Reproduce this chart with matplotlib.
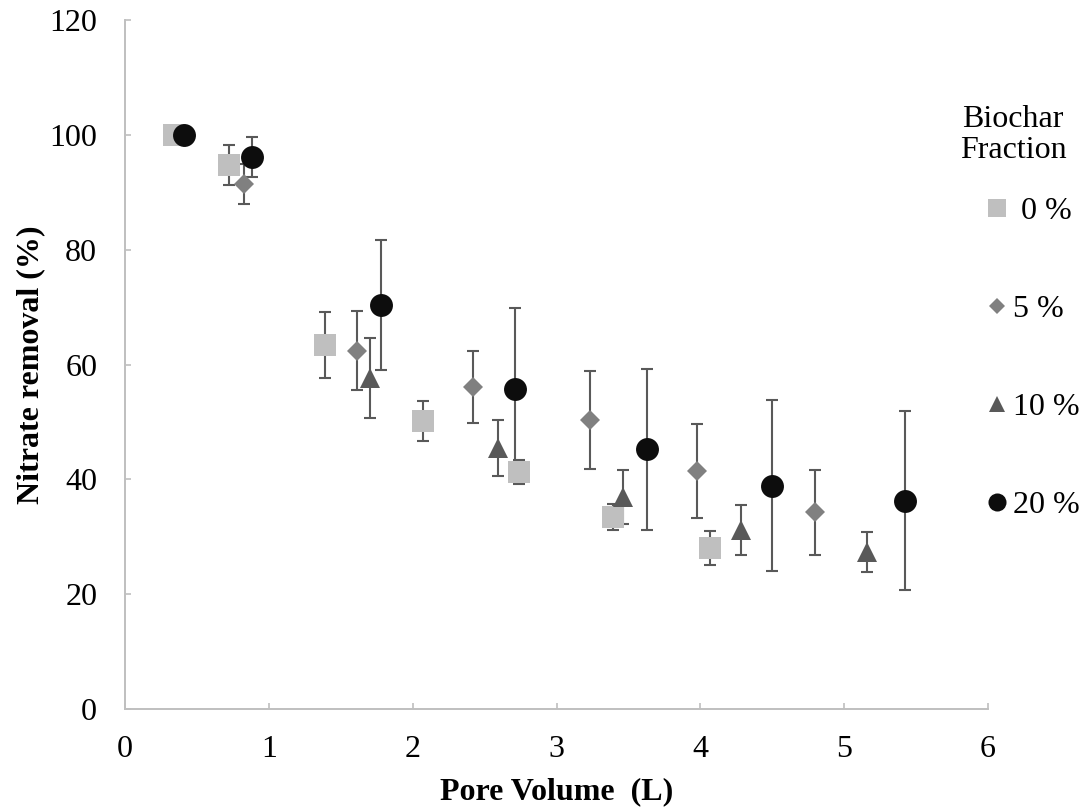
import numpy as np
import matplotlib
matplotlib.use('Agg')
import matplotlib.pyplot as plt
from matplotlib.lines import Line2D

plt.rcParams['font.family'] = ['Liberation Serif', 'DejaVu Serif']

# Data
x0 = [0.34, 0.72, 1.39, 2.07, 2.74, 3.39, 4.07]
y0 = [100.0, 94.7, 63.4, 50.1, 41.3, 33.4, 28.0]
e0 = [0.0, 3.5, 5.7, 3.5, 2.1, 2.3, 3.0]

x5 = [0.83, 1.61, 2.42, 3.23, 3.98, 4.80]
y5 = [91.5, 62.4, 56.1, 50.3, 41.4, 34.3]
e5 = [3.5, 6.9, 6.3, 8.5, 8.2, 7.4]

x10 = [1.70, 2.59, 3.46, 4.28, 5.16]
y10 = [57.6, 45.5, 36.9, 31.2, 27.3]
e10 = [7.0, 4.9, 4.7, 4.3, 3.5]

x20 = [0.41, 0.88, 1.78, 2.71, 3.63, 4.50, 5.42]
y20 = [100.0, 96.1, 70.3, 55.7, 45.2, 38.9, 36.3]
e20 = [0.0, 3.5, 11.3, 14.2, 14.0, 14.9, 15.6]

labels = [' 0 %', '5 %', '10 %', '20 %']
colors = ['#bfbfbf', '#808080', '#595959', '#0d0d0d']
markers = ['s', 'D', '^', 'o']
sizes = [15.5, 10.0, 14.5, 16.5]
leg_sizes = [13, 8, 11.5, 13]

FS = 23

fig = plt.figure(figsize=(10.81, 8.07), dpi=100)
ax = fig.add_axes([125 / 1081, 1 - 709 / 807, (988 - 125) / 1081, (709 - 20) / 807])

series = [(x0, y0, e0), (x5, y5, e5), (x10, y10, e10), (x20, y20, e20)]
for (xs, ys, es), c, m, s in zip(series, colors, markers, sizes):
    cont = ax.errorbar(xs, ys, yerr=es, fmt=m, color=c, markersize=s, markeredgewidth=0,
                       ecolor='#595959', elinewidth=1.5, capsize=4.5)
    for cap in cont[1]:
        cap.set_markeredgewidth(1.5)

ax.set_xlim(0, 6)
ax.set_ylim(0, 120)
ax.set_xticks(np.arange(0, 7, 1))
ax.set_yticks(np.arange(0, 121, 20))

for side in ['top', 'right']:
    ax.spines[side].set_visible(False)
for side in ['left', 'bottom']:
    ax.spines[side].set_color('#bfbfbf')
    ax.spines[side].set_linewidth(1.4)
ax.tick_params(direction='in', length=4, width=1.2, color='#bfbfbf', labelsize=FS)
ax.tick_params(axis='x', pad=18.5)
ax.tick_params(axis='y', pad=20)

ax.set_xlabel('Pore Volume  (L)', fontsize=FS, fontweight='bold')
ax.set_ylabel('Nitrate removal (%)', fontsize=FS, fontweight='bold')
ax.xaxis.set_label_coords(0.5, -0.0995)
ax.yaxis.set_label_coords(-0.092, 0.5)

fig.text(1013 / 1081, 1 - 135 / 807, 'Biochar\nFraction', fontsize=FS,
         ha='center', va='center', multialignment='center', linespacing=1.05)

handles = [Line2D([], [], linestyle='none', marker=m, color=c, markersize=s,
                  markeredgewidth=0)
           for m, c, s in zip(markers, colors, leg_sizes)]
leg = fig.legend(handles, labels, loc='upper left', bbox_to_anchor=(987.5 / 1081, 1 - 197 / 807),
                 frameon=False, fontsize=FS, labelspacing=2.15, handlelength=0.6,
                 handletextpad=0.2, borderpad=0, borderaxespad=0)

fig.savefig('out.png', dpi=100)
